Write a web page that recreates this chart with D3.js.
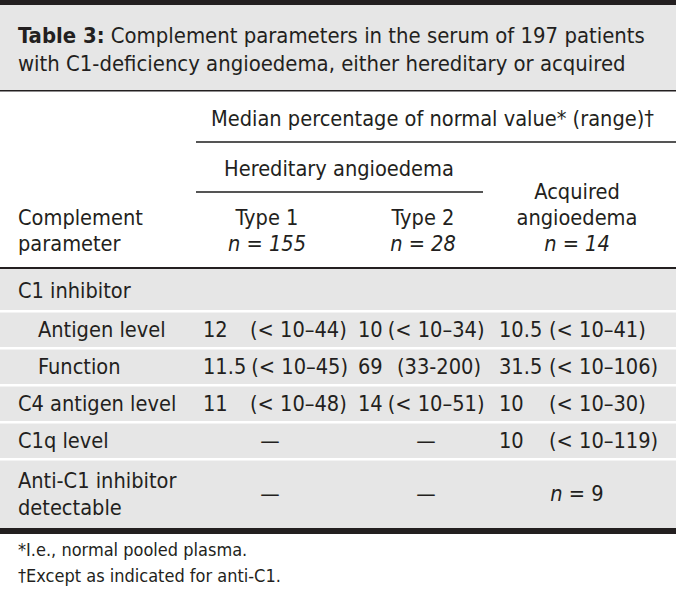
<!DOCTYPE html>
<html>
<head>
<meta charset="utf-8">
<script src="https://cdn.jsdelivr.net/npm/d3@7"></script>
<style>
  html, body { margin: 0; padding: 0; background: #fff; }
  svg text { font-family: "DejaVu Sans Condensed", "DejaVu Sans", sans-serif; font-stretch: condensed; fill: #231f20; }
</style>
</head>
<body>
<div id="chart"></div>
<script>
// Table contents
const titleLines = ["Complement parameters in the serum of 197 patients",
                    "with C1-deficiency angioedema, either hereditary or acquired"];
const spanHeader = "Median percentage of normal value* (range)\u2020";
const groupHeader = "Hereditary angioedema";
const columnNames = [["Type 1"], ["Type 2"], ["Acquired", "angioedema"]];
const columnN = [155, 28, 14];

const rowLabels = [["C1 inhibitor"], ["Antigen level"], ["Function"], ["C4 antigen level"],
                   ["C1q level"], ["Anti-C1 inhibitor", "detectable"]];
const rowLevel = [0, 1, 1, 0, 0, 0];

// medians and ranges per column (null = empty cell, "—" = not applicable)
const type1Median = [null, "12", "11.5", "11", "\u2014", "\u2014"];
const type1Range = [null, "(< 10\u201344)", "(< 10\u201345)", "(< 10\u201348)", null, null];
const type2Median = [null, "10", "69", "14", "\u2014", "\u2014"];
const type2Range = [null, "(< 10\u201334)", "(33-200)", "(< 10\u201351)", null, null];
const acqMedian = [null, "10.5", "31.5", "10", "10", null];
const acqRange = [null, "(< 10\u201341)", "(< 10\u2013106)", "(< 10\u201330)", "(< 10\u2013119)", null];
const acqDetected = [null, null, null, null, null, 9];

const footnotes = ["*I.e., normal pooled plasma.", "\u2020Except as indicated for anti-C1."];

const W = 676, H = 594;
const ink = "#231f20", shade = "#e6e6e6", rule = "#555";

const svg = d3.select("#chart").append("svg")
    .attr("width", W).attr("height", H);

// ---- title band ----
svg.append("rect").attr("x", 0).attr("y", 0).attr("width", W).attr("height", 5).attr("fill", ink);
svg.append("rect").attr("x", 0).attr("y", 5).attr("width", W).attr("height", 86).attr("fill", shade);
svg.append("rect").attr("x", 0).attr("y", 90).attr("width", W).attr("height", 1.5).attr("fill", ink);

const title = svg.append("text").attr("x", 18).attr("font-size", 21.9);
title.append("tspan").attr("x", 18).attr("y", 43).attr("font-weight", "bold").text("Table 3:");
title.append("tspan").text(" " + titleLines[0]);
title.append("tspan").attr("x", 18).attr("y", 71).text(titleLines[1]);

// ---- column layout ----
const colCenter = [267, 423, 577];
const valueX = [203, 358, 499];
const rangeLeft = [250, null, 549];   // left-aligned ranges
const rangeRight = [null, 481, null]; // right-aligned ranges
const fs = 21.6;

// ---- header ----
svg.append("text").attr("x", 211).attr("y", 126).attr("font-size", fs).text(spanHeader);
svg.append("line").attr("x1", 196).attr("x2", W).attr("y1", 142).attr("y2", 142)
    .attr("stroke", rule).attr("stroke-width", 2);
svg.append("text").attr("x", 339).attr("y", 176)
    .attr("text-anchor", "middle").attr("font-size", fs).text(groupHeader);
svg.append("line").attr("x1", 196).attr("x2", 483).attr("y1", 192).attr("y2", 192)
    .attr("stroke", rule).attr("stroke-width", 2);

svg.append("text").attr("x", 18).attr("y", 225).attr("font-size", fs).text("Complement");
svg.append("text").attr("x", 18).attr("y", 251).attr("font-size", fs).text("parameter");

columnNames.forEach((names, i) => {
    const baseY = 251 - 26 * names.length;
    names.forEach((nm, j) => {
        svg.append("text").attr("x", colCenter[i]).attr("y", baseY + 26 * j)
            .attr("text-anchor", "middle").attr("font-size", fs).text(nm);
    });
    svg.append("text").attr("x", colCenter[i]).attr("y", 251)
        .attr("text-anchor", "middle").attr("font-size", fs).attr("font-style", "italic")
        .text(`n = ${columnN[i]}`);
});

svg.append("rect").attr("x", 0).attr("y", 267).attr("width", W).attr("height", 2).attr("fill", ink);

// ---- body rows ----
const rowHeights = rowLabels.map(l => 37 + 32 * (l.length - 1));
const rowTops = d3.cumsum([0, ...rowHeights]).map(d => d + 274);
const bodyTop = 269, bodyBottom = rowTops[rowTops.length - 1];

svg.append("rect").attr("x", 0).attr("y", bodyTop).attr("width", W)
    .attr("height", bodyBottom - bodyTop).attr("fill", shade);

// white separators between rows
svg.selectAll(".sep").data(rowTops.slice(1, -1)).enter()
    .append("rect").attr("class", "sep")
    .attr("x", 0).attr("width", W).attr("y", d => d - 1).attr("height", 2.5)
    .attr("fill", "#fff");

svg.append("rect").attr("x", 0).attr("y", bodyBottom).attr("width", W).attr("height", 6).attr("fill", ink);

const medians = [type1Median, type2Median, acqMedian];
const ranges = [type1Range, type2Range, acqRange];

rowLabels.forEach((lines, r) => {
    const mid = r === 0 ? (bodyTop + rowTops[1]) / 2 : (rowTops[r] + rowTops[r + 1]) / 2;
    const base = mid + 7.5;
    const firstY = base - 13.5 * (lines.length - 1);
    lines.forEach((ln, j) => {
        svg.append("text").attr("x", rowLevel[r] ? 38 : 18).attr("y", firstY + 27 * j)
            .attr("font-size", fs).text(ln);
    });

    medians.forEach((col, c) => {
        const m = col[r], rg = ranges[c][r];
        if (m === "\u2014") {
            svg.append("text").attr("x", colCenter[c] + 3).attr("y", base)
                .attr("text-anchor", "middle").attr("font-size", fs).text(m);
        } else if (m != null) {
            const v = svg.append("text").attr("x", valueX[c]).attr("y", base)
                .attr("font-size", fs).text(m);
            if (rg) {
                // keep at least a space between the median and its range
                const valueEnd = valueX[c] + v.node().getComputedTextLength() + 5;
                const t = svg.append("text").attr("y", base).attr("font-size", fs).text(rg);
                const w = t.node().getComputedTextLength();
                const left = rangeLeft[c] != null ? rangeLeft[c] : rangeRight[c] - w;
                t.attr("x", Math.max(left, valueEnd));
            }
        }
    });

    if (acqDetected[r] != null) {
        const t = svg.append("text").attr("x", colCenter[2]).attr("y", base)
            .attr("text-anchor", "middle").attr("font-size", fs);
        t.append("tspan").attr("font-style", "italic").text("n");
        t.append("tspan").text(` = ${acqDetected[r]}`);
    }
});

// ---- footnotes ----
footnotes.forEach((f, i) => {
    svg.append("text").attr("x", 18).attr("y", bodyBottom + 28 + 26 * i)
        .attr("font-size", 18).text(f);
});
</script>
</body>
</html>
